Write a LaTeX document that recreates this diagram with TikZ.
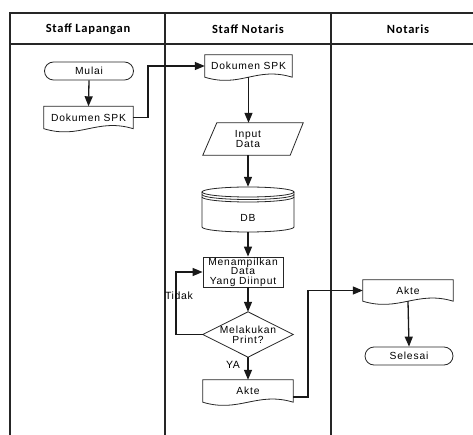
\documentclass[tikz,border=0pt]{standalone}
\usepackage{fontspec}
\setmainfont{Liberation Sans}
\newfontfamily\headfont{Carlito}
\usetikzlibrary{arrows.meta,shapes.misc}

% document symbol: straight top, wavy bottom
\newcommand\docoutline[1]{%
  \draw[shapeline] (#1.south west) -- (#1.north west) -- (#1.north east) -- (#1.south east)
    .. controls +(-36,-11) and +(36,11) .. (#1.south west) -- cycle;}

\begin{document}
\begin{tikzpicture}[x=1pt,y=-1pt,
  every node/.style={inner sep=0pt, align=center,
    font=\fontsize{10.3}{10}\selectfont\addfontfeature{LetterSpace=8}},
  head/.style={font=\headfont\bfseries\fontsize{12.5}{14}\selectfont\addfontfeature{LetterSpace=6}},
  frame/.style={line width=1.5pt, draw=black!85},
  shapeline/.style={line width=0.8pt, draw=black!85},
  docbox/.style={minimum width=89pt, minimum height=22pt},
  terminal/.style={rounded rectangle, shapeline, minimum width=89pt, minimum height=18pt},
  procbox/.style={rectangle, shapeline, minimum width=80pt, minimum height=30pt},
  flow/.style={line width=1.3pt, draw=black!90, -{Triangle[length=10pt,width=8pt]}},
  lbl/.style={font=\fontsize{10.5}{10}\selectfont\addfontfeature{LetterSpace=6}}
]
\useasboundingbox (0,0) rectangle (473,435);

% swimlane frame
\draw[frame] (10,435) -- (10,13) -- (473,13);
\draw[frame] (10,44) -- (473,44);
\draw[frame] (165,13) -- (165,435);
\draw[frame] (331,13) -- (331,435);
\node[head] (h1) at (88,29) {Staff Lapangan};
\node[head] (h2) at (248,29) {Staff Notaris};
\node[head] (h3) at (408,29) {Notaris};

% Staff Lapangan
\node[terminal] (mulai) at (89,71) {Mulai};
\node[docbox] (doc1) at (88.5,117.5) {Dokumen SPK};
\docoutline{doc1}

% Staff Notaris
\node[docbox, minimum width=87pt] (doc2) at (248.5,66) {Dokumen SPK};
\docoutline{doc2}

% input/output parallelogram
\node[minimum width=110pt, minimum height=32pt] (input) at (248,139) {Input\\Data};
\draw[shapeline] ([xshift=24pt]input.north west) -- (input.north east)
  -- ([xshift=-13pt]input.south east) -- ([xshift=10pt]input.south west) -- cycle;

% database cylinder
\node[minimum width=92pt, minimum height=45pt] (db) at (248,209.5) {};
\node (dbtext) at (248,218) {DB};
\draw[shapeline] (248,192) ellipse [x radius=46pt, y radius=5pt];
\draw[shapeline] (294,194.5) arc [start angle=0, end angle=-180, x radius=46pt, y radius=5pt];
\draw[shapeline] (294,197) arc [start angle=0, end angle=-180, x radius=46pt, y radius=5pt];
\draw[shapeline] (202,192) -- (202,227)
  arc [start angle=-180, end angle=0, x radius=46pt, y radius=5pt] -- (294,192);

\node[procbox, font=\fontsize{10.3}{9.6}\selectfont\addfontfeature{LetterSpace=8}]
  (menu) at (243,272) {Menampilkan\\Data\\Yang Diinput};

\node[minimum width=90pt, minimum height=45pt] (dec) at (248,334.5) {Melakukan\\Print?};
\draw[shapeline] (dec.north) -- (dec.east) -- (dec.south) -- (dec.west) -- cycle;

\node[docbox, minimum width=90pt] (akte1) at (248,391) {Akte};
\docoutline{akte1}

% Notaris
\node[docbox, minimum width=90pt, minimum height=21pt] (akte2) at (408,290.5) {Akte};
\docoutline{akte2}
\node[terminal, minimum width=88pt] (selesai) at (409,356) {Selesai};

% bend points of the elbow connectors
\coordinate (bendA) at (148,0);
\coordinate (bendB) at (308,0);
\coordinate (loopx) at (176,0);

% connectors
\draw[flow] (mulai.south) -- (doc1.north);
\draw[flow] (doc1.east) -- (doc1.east -| bendA) |- (doc2.west);
\draw[flow] (doc2.south) -- (doc2.south |- input.north);
\draw[flow] (input.south -| db.north) -- (db.north);
\draw[flow] (db.south) -- (db.south |- menu.north);
\draw[flow] (menu.south -| dec.north) -- (dec.north);
\draw[flow] (dec.west) -- (dec.west -| loopx) |- (menu.west);
\draw[flow] (dec.south) -- (akte1.north);
\draw[flow] ([yshift=-6pt]akte1.east) -- ([yshift=-6pt]akte1.east -| bendB) |- (akte2.west);
\draw[flow] (akte2.south) -- (selesai.north);

\node[lbl] (tidak) at (179,296) {Tidak};
\node[lbl] (ya) at (233,365) {YA};
\end{tikzpicture}
\end{document}
